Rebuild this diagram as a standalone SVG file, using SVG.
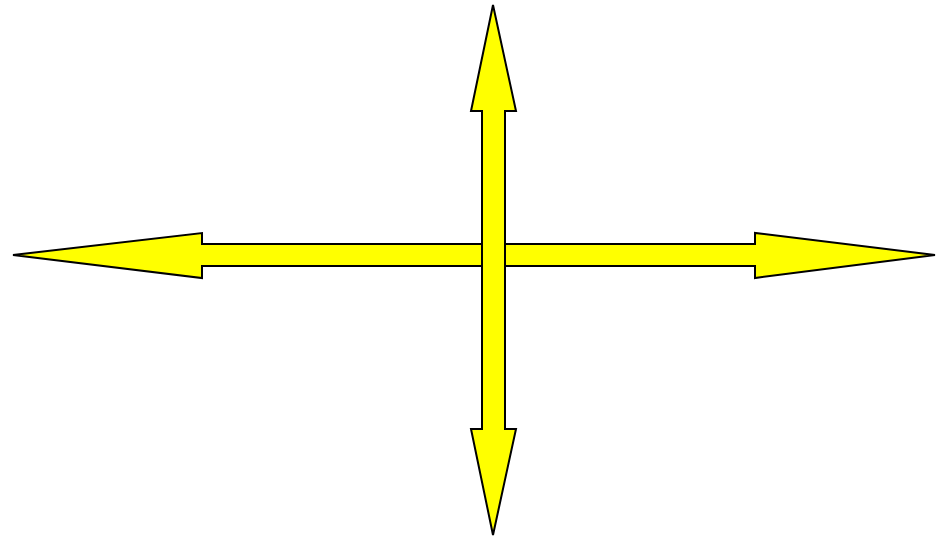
<svg xmlns="http://www.w3.org/2000/svg" width="936" height="538" viewBox="0 0 936 538">
<style>
.arrow{fill:#ffff00;stroke:#000;stroke-width:2;stroke-linejoin:miter}
</style>
<rect width="936" height="538" fill="#fff"/>
<g id="horizontal-arrow">
<path class="arrow" d="M13,255 L202,233 L202,244 L755,244 L755,233 L935,255 L755,278 L755,266 L202,266 L202,278 Z"/>
</g>
<g id="vertical-arrow">
<path class="arrow" d="M493,5 L516,111 L505,111 L505,429 L516,429 L493,535 L471,429 L482,429 L482,111 L471,111 Z"/>
</g>
</svg>
